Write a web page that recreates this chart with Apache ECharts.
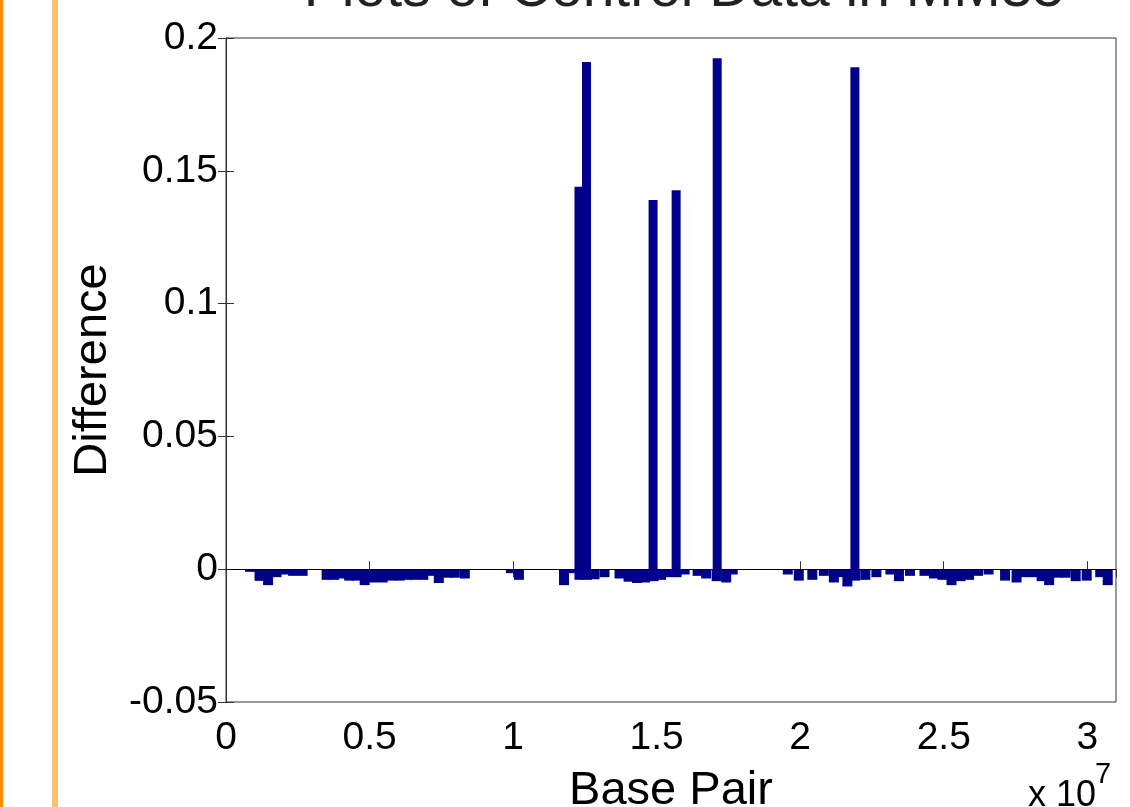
<!DOCTYPE html>
<html><head><meta charset="utf-8">
<script src="https://cdn.jsdelivr.net/npm/echarts@6/dist/echarts.min.js"></script>
<style>html,body{margin:0;padding:0;background:#fff}#c{width:1130px;height:807px}</style>
</head><body><div id="c"></div>
<script>
// Base-pair positions (bp) and differences for the small negative bars
const negPos = [0.820e6,1.151e6,1.448e6,1.744e6,2.023e6,2.320e6,2.651e6,3.488e6,3.750e6,4.011e6,4.273e6,4.534e6,4.813e6,5.110e6,5.441e6,5.755e6,6.034e6,6.296e6,6.557e6,6.854e6,7.116e6,7.395e6,7.691e6,7.953e6,8.301e6,9.906e6,10.185e6,11.755e6,12.086e6,12.295e6,12.557e6,12.818e6,13.167e6,13.690e6,14.004e6,14.301e6,14.580e6,14.876e6,15.138e6,15.365e6,15.679e6,15.958e6,16.411e6,16.708e6,17.074e6,17.405e6,17.632e6,19.550e6,19.934e6,20.405e6,20.806e6,21.155e6,21.399e6,21.626e6,21.905e6,22.253e6,22.637e6,23.125e6,23.422e6,23.806e6,24.311e6,24.643e6,24.939e6,25.253e6,25.567e6,25.864e6,26.177e6,26.544e6,27.119e6,27.520e6,27.817e6,28.113e6,28.392e6,28.654e6,28.950e6,29.229e6,29.578e6,29.962e6,30.433e6,30.694e6];
const negVal = [-0.001,-0.0044,-0.006,-0.003,-0.002,-0.0025,-0.0025,-0.004,-0.004,-0.0035,-0.0043,-0.0043,-0.006,-0.005,-0.005,-0.0043,-0.0043,-0.004,-0.004,-0.004,-0.0025,-0.0052,-0.0032,-0.0032,-0.0035,-0.0015,-0.004,-0.006,-0.0015,-0.004,-0.004,-0.0038,-0.003,-0.0035,-0.0047,-0.0052,-0.005,-0.0045,-0.004,-0.003,-0.003,-0.002,-0.0025,-0.0035,-0.0045,-0.005,-0.002,-0.002,-0.0043,-0.004,-0.0025,-0.005,-0.003,-0.0065,-0.0043,-0.004,-0.003,-0.002,-0.0045,-0.0025,-0.0025,-0.0035,-0.004,-0.006,-0.0045,-0.004,-0.0025,-0.002,-0.0043,-0.005,-0.003,-0.003,-0.0045,-0.006,-0.0032,-0.0032,-0.0045,-0.0043,-0.003,-0.006];
// Tall positive bars
const peakPos = [12.295e6,12.557e6,14.876e6,15.679e6,17.109e6,21.905e6];
const peakVal = [0.144,0.191,0.139,0.1427,0.1924,0.189];
// Axis ticks
const xTicks = {min:0, max:3.1e7, interval:0.5e7};
const yTicks = {min:-0.05, max:0.2, interval:0.05};
const titleText = 'Plots of Control Data in MM35';
const xName = 'Base Pair';
const yName = 'Difference';

const FONT = 'Liberation Sans, Helvetica, Arial, sans-serif';
const chart = echarts.init(document.getElementById('c'), null, {renderer:'canvas'});
const axisCol = '#333';
const fmtX = v => String(+(v/1e7).toFixed(2));
const fmtY = v => String(+v.toFixed(2));
const barColor = '#00008b';

chart.setOption({
  backgroundColor:'#fff',
  animation:false,
  grid:{left:226,right:14,top:38,bottom:105,show:true,borderColor:axisCol,borderWidth:1,backgroundColor:'#fff'},
  xAxis:[{
    type:'value',min:xTicks.min,max:xTicks.max,interval:xTicks.interval,position:'bottom',
    axisLine:{show:true,lineStyle:{color:axisCol}},
    axisTick:{show:true,inside:true,length:8,lineStyle:{color:axisCol}},
    axisLabel:{formatter:fmtX,color:'#000',fontFamily:FONT,fontSize:39,margin:17,showMaxLabel:false},
    splitLine:{show:false}
  },{
    type:'value',min:xTicks.min,max:xTicks.max,interval:xTicks.interval,position:'top',
    axisLine:{show:true,lineStyle:{color:axisCol}},
    axisTick:{show:true,inside:true,length:8,lineStyle:{color:axisCol}},
    axisLabel:{show:false},splitLine:{show:false}
  }],
  yAxis:[{
    type:'value',min:yTicks.min,max:yTicks.max,interval:yTicks.interval,position:'left',
    axisLine:{show:true,lineStyle:{color:axisCol}},
    axisTick:{show:true,inside:true,length:8,lineStyle:{color:axisCol}},
    axisLabel:{formatter:fmtY,color:'#000',fontFamily:FONT,fontSize:39,margin:8},
    splitLine:{show:false}
  },{
    type:'value',min:yTicks.min,max:yTicks.max,interval:yTicks.interval,position:'right',
    axisLine:{show:true,lineStyle:{color:axisCol}},
    axisTick:{show:true,inside:true,length:8,lineStyle:{color:axisCol}},
    axisLabel:{show:false},splitLine:{show:false}
  }],
  series:[{
    type:'bar',name:'neg',barWidth:10,barGap:'-100%',
    itemStyle:{color:barColor},
    data:negPos.map((x,i)=>[x,negVal[i]]),
    markLine:{silent:true,symbol:'none',label:{show:false},lineStyle:{color:'#000',width:1,type:'solid'},data:[{yAxis:0}]}
  },{
    type:'bar',name:'peak',barWidth:9,barGap:'-100%',
    itemStyle:{color:barColor},
    data:peakPos.map((x,i)=>[x,peakVal[i]])
  }],
  graphic:[
    {type:'rect',left:0,top:0,shape:{width:3,height:807},style:{fill:'#ff8a00'}},
    {type:'rect',left:52,top:0,shape:{width:6,height:807},style:{fill:'#ffbf70'}},
    {type:'text',x:684,y:-10,style:{text:titleText,fill:'#222',font:'57px '+FONT,align:'center',verticalAlign:'middle'}},
    {type:'text',x:93,y:370,rotation:Math.PI/2,style:{text:yName,fill:'#000',font:'47px '+FONT,align:'center',verticalAlign:'middle'}},
    {type:'text',x:671,y:791,style:{text:xName,fill:'#000',font:'47px '+FONT,align:'center',verticalAlign:'middle'}},
    {type:'text',x:1028,y:796,style:{text:'x 10',fill:'#000',font:'36px '+FONT,align:'left',verticalAlign:'middle'}},
    {type:'text',x:1095,y:775,style:{text:'7',fill:'#000',font:'29px '+FONT,align:'left',verticalAlign:'middle'}}
  ]
});
</script></body></html>
